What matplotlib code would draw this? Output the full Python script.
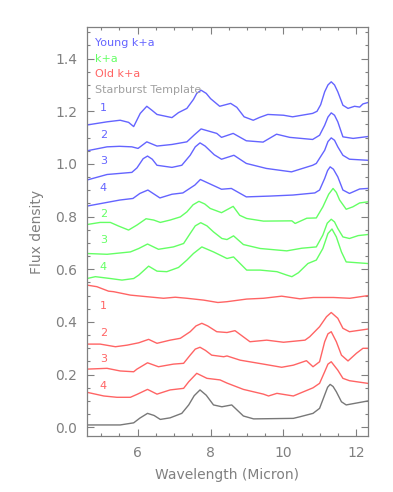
import matplotlib
matplotlib.use("Agg")
import matplotlib.pyplot as plt
from matplotlib.ticker import MultipleLocator, FormatStrFormatter

# spectra: wavelength (micron) and flux density
young1_wl = [4.61, 5.16, 5.52, 5.75, 5.89, 6.07, 6.25, 6.39, 6.53, 6.94, 7.12, 7.35, 7.53, 7.62, 7.74,
             7.88, 8.0, 8.25, 8.55, 8.72, 8.92, 9.17, 9.35, 9.57, 10.0, 10.25, 10.8, 10.92, 11.02,
             11.13, 11.22, 11.31, 11.4, 11.49, 11.63, 11.77, 11.95, 12.09, 12.18, 12.31]
young1 = [1.148, 1.160, 1.166, 1.158, 1.142, 1.192, 1.219, 1.204, 1.188, 1.176, 1.195, 1.211, 1.245,
          1.268, 1.280, 1.268, 1.248, 1.219, 1.230, 1.215, 1.179, 1.166, 1.177, 1.188, 1.185, 1.179,
          1.192, 1.200, 1.225, 1.274, 1.300, 1.312, 1.300, 1.274, 1.223, 1.211, 1.219, 1.216, 1.228,
          1.233]

young2_wl = [4.61, 5.16, 5.5, 5.84, 6.01, 6.25, 6.53, 6.94, 7.35, 7.55, 7.74, 8.17, 8.3, 8.62, 8.98,
             9.44, 9.81, 10.17, 10.8, 10.99, 11.13, 11.22, 11.31, 11.4, 11.49, 11.63, 11.91, 12.31]
young2 = [1.050, 1.065, 1.067, 1.065, 1.059, 1.084, 1.068, 1.074, 1.084, 1.110, 1.133, 1.116, 1.101,
          1.116, 1.088, 1.083, 1.113, 1.101, 1.093, 1.109, 1.147, 1.178, 1.194, 1.185, 1.160, 1.103,
          1.097, 1.104]

young3_wl = [4.61, 5.16, 5.84, 5.98, 6.15, 6.27, 6.4, 6.53, 6.94, 7.21, 7.44, 7.58, 7.71, 7.85, 8.1,
             8.3, 8.64, 8.98, 9.53, 10.22, 10.8, 10.9, 11.13, 11.22, 11.31, 11.4, 11.49, 11.63, 11.81,
             12.31]
young3 = [0.939, 0.960, 0.968, 0.985, 1.020, 1.030, 1.018, 0.995, 0.987, 0.995, 1.033, 1.065, 1.080,
          1.068, 1.035, 1.018, 1.033, 1.002, 0.983, 0.970, 0.995, 1.002, 1.052, 1.085, 1.099, 1.090,
          1.065, 1.033, 1.018, 1.014]

young4_wl = [4.61, 5.51, 5.87, 6.06, 6.28, 6.61, 6.94, 7.24, 7.57, 7.72, 8.30, 8.57, 8.98, 9.62, 10.26,
             10.86, 10.99, 11.13, 11.21, 11.28, 11.37, 11.49, 11.63, 11.81, 12.09, 12.31]
young4 = [0.840, 0.863, 0.869, 0.888, 0.901, 0.871, 0.885, 0.890, 0.920, 0.941, 0.904, 0.907, 0.875,
          0.878, 0.882, 0.890, 0.901, 0.945, 0.975, 0.989, 0.980, 0.951, 0.901, 0.888, 0.905, 0.907]

ka2_wl = [4.61, 4.97, 5.25, 5.48, 5.75, 5.98, 6.23, 6.44, 6.62, 6.89, 7.17, 7.35, 7.52, 7.68, 7.84,
          7.99, 8.30, 8.62, 8.80, 8.99, 9.45, 10.23, 10.32, 10.64, 10.9, 11.08, 11.24, 11.36, 11.45,
          11.54, 11.72, 11.90, 12.09, 12.31]
ka2 = [0.770, 0.778, 0.778, 0.764, 0.749, 0.768, 0.792, 0.787, 0.778, 0.787, 0.799, 0.818, 0.845,
       0.858, 0.848, 0.831, 0.815, 0.839, 0.805, 0.793, 0.783, 0.784, 0.774, 0.794, 0.795, 0.837,
       0.885, 0.907, 0.892, 0.863, 0.828, 0.837, 0.852, 0.856]

ka3_wl = [4.61, 5.16, 5.80, 6.03, 6.27, 6.57, 6.98, 7.26, 7.44, 7.58, 7.73, 7.9, 8.08, 8.31, 8.45,
          8.63, 8.90, 9.36, 10.09, 10.5, 10.9, 11.08, 11.2, 11.31, 11.4, 11.49, 11.63, 11.81, 12.05,
          12.31]
ka3 = [0.660, 0.657, 0.666, 0.679, 0.696, 0.676, 0.685, 0.698, 0.736, 0.765, 0.777, 0.765, 0.742,
       0.717, 0.713, 0.727, 0.694, 0.679, 0.670, 0.680, 0.685, 0.730, 0.775, 0.790, 0.780, 0.755,
       0.723, 0.717, 0.728, 0.732]

ka4_wl = [4.61, 4.84, 5.25, 5.57, 5.89, 6.03, 6.30, 6.53, 6.80, 7.12, 7.35, 7.53, 7.76, 8.08, 8.45,
          8.63, 8.99, 9.36, 9.82, 10.09, 10.23, 10.41, 10.67, 10.9, 11.08, 11.22, 11.33, 11.45, 11.59,
          11.72, 12.31]
ka4 = [0.565, 0.572, 0.565, 0.559, 0.565, 0.578, 0.612, 0.593, 0.591, 0.607, 0.635, 0.660, 0.685,
       0.666, 0.641, 0.647, 0.597, 0.597, 0.591, 0.578, 0.572, 0.587, 0.622, 0.635, 0.679, 0.736,
       0.753, 0.723, 0.666, 0.628, 0.622]

old1_wl = [4.61, 4.88, 5.20, 5.34, 5.80, 6.25, 6.71, 7.03, 7.35, 7.81, 8.20, 8.45, 8.99, 9.45, 9.95,
           10.45, 10.82, 11.37, 11.82, 12.31]
old1 = [0.540, 0.534, 0.517, 0.515, 0.502, 0.496, 0.490, 0.494, 0.490, 0.483, 0.474, 0.477, 0.487,
        0.490, 0.498, 0.488, 0.493, 0.493, 0.490, 0.500]

old2_wl = [4.61, 4.97, 5.39, 5.71, 6.03, 6.30, 6.53, 6.89, 7.17, 7.44, 7.6, 7.76, 7.92, 8.17, 8.45,
           8.67, 9.08, 9.54, 10.00, 10.59, 10.72, 10.99, 11.18, 11.31, 11.49, 11.63, 11.81, 12.31]
old2 = [0.316, 0.316, 0.306, 0.312, 0.321, 0.334, 0.319, 0.331, 0.338, 0.363, 0.385, 0.395, 0.385,
        0.363, 0.360, 0.367, 0.325, 0.331, 0.323, 0.331, 0.344, 0.382, 0.420, 0.436, 0.414, 0.376,
        0.363, 0.373]

old3_wl = [4.61, 5.16, 5.52, 5.89, 5.98, 6.27, 6.57, 6.98, 7.26, 7.44, 7.58, 7.71, 7.86, 8.03, 8.36,
           8.45, 8.81, 9.45, 9.95, 10.27, 10.63, 10.81, 10.99, 11.13, 11.22, 11.31, 11.45, 11.59,
           11.77, 12.0, 12.18, 12.31]
old3 = [0.221, 0.224, 0.214, 0.211, 0.221, 0.245, 0.230, 0.240, 0.243, 0.274, 0.297, 0.304, 0.292,
        0.274, 0.268, 0.271, 0.255, 0.240, 0.228, 0.236, 0.253, 0.230, 0.249, 0.325, 0.355, 0.363,
        0.325, 0.274, 0.252, 0.281, 0.300, 0.300]

old4_wl = [4.61, 5.07, 5.43, 5.80, 5.98, 6.27, 6.53, 6.89, 7.26, 7.40, 7.62, 7.90, 8.26, 8.45, 8.90,
           9.45, 9.59, 9.82, 10.27, 10.81, 10.99, 11.13, 11.22, 11.31, 11.49, 11.63, 11.81, 12.31]
old4 = [0.133, 0.119, 0.114, 0.114, 0.125, 0.144, 0.126, 0.142, 0.148, 0.173, 0.205, 0.186, 0.180,
        0.168, 0.144, 0.126, 0.119, 0.129, 0.119, 0.150, 0.167, 0.211, 0.240, 0.249, 0.217, 0.186,
        0.177, 0.167]

sb_wl = [4.61, 5.52, 5.89, 6.06, 6.27, 6.45, 6.62, 6.89, 7.21, 7.40, 7.55, 7.71, 7.88, 8.08, 8.31,
         8.58, 8.90, 9.18, 10.27, 10.45, 10.81, 10.99, 11.13, 11.21, 11.28, 11.36, 11.45, 11.59,
         11.72, 12.31]
sb = [0.009, 0.009, 0.017, 0.035, 0.053, 0.045, 0.030, 0.036, 0.053, 0.085, 0.120, 0.142, 0.122,
      0.085, 0.078, 0.085, 0.043, 0.032, 0.034, 0.040, 0.053, 0.072, 0.123, 0.152, 0.163, 0.155,
      0.135, 0.097, 0.085, 0.100]

legend_names = ["Young k+a", "k+a", "Old k+a", "Starburst Template"]
legend_y = [1.460, 1.398, 1.341, 1.280]
num_labels = ["1", "2", "3", "4", "2", "3", "4", "1", "2", "3", "4"]
num_y = [1.211, 1.109, 1.011, 0.909, 0.809, 0.711, 0.610, 0.462, 0.360, 0.259, 0.158]

blue = '#6464ff'
green = '#64ff64'
red = '#ff6464'
grey = '#787878'
axcol = '#808080'

fig = plt.figure(figsize=(3.93, 4.92), dpi=100)
ax = fig.add_axes([0.2214, 0.1138, 0.7142, 0.8313])

lw = 1.0
for wl, f in [(young1_wl, young1), (young2_wl, young2), (young3_wl, young3), (young4_wl, young4)]:
    ax.plot(wl, f, color=blue, lw=lw)
for wl, f in [(ka2_wl, ka2), (ka3_wl, ka3), (ka4_wl, ka4)]:
    ax.plot(wl, f, color=green, lw=lw)
for wl, f in [(old1_wl, old1), (old2_wl, old2), (old3_wl, old3), (old4_wl, old4)]:
    ax.plot(wl, f, color=red, lw=lw)
ax.plot(sb_wl, sb, color=grey, lw=lw)

# legend as plain coloured text
for name, y, c in zip(legend_names, legend_y, [blue, green, red, '#a0a0a0']):
    ax.text(4.82, y, name, color=c, fontsize=8, va='center', ha='left')

num_cols = [blue] * 4 + [green] * 3 + [red] * 4
for lab, y, c in zip(num_labels, num_y, num_cols):
    ax.text(5.06, y, lab, color=c, fontsize=8, va='center', ha='center')

ax.set_xlim(4.61, 12.31)
ax.set_ylim(-0.033, 1.52)
ax.xaxis.set_major_locator(MultipleLocator(2))
ax.xaxis.set_minor_locator(MultipleLocator(0.5))
ax.yaxis.set_major_locator(MultipleLocator(0.2))
ax.yaxis.set_minor_locator(MultipleLocator(0.05))
ax.yaxis.set_major_formatter(FormatStrFormatter('%.1f'))

ax.tick_params(which='both', direction='in', top=True, right=True, colors=axcol,
               labelcolor=axcol, labelsize=10, width=0.8)
ax.tick_params(which='major', length=5, pad=7)
ax.tick_params(which='minor', length=2.5)
for s in ax.spines.values():
    s.set_color(axcol)
    s.set_linewidth(0.9)

ax.set_xlabel("Wavelength (Micron)", color=axcol, fontsize=10, labelpad=6)
ax.set_ylabel("Flux density", color=axcol, fontsize=10, labelpad=8)

fig.savefig("out.png", dpi=100)
